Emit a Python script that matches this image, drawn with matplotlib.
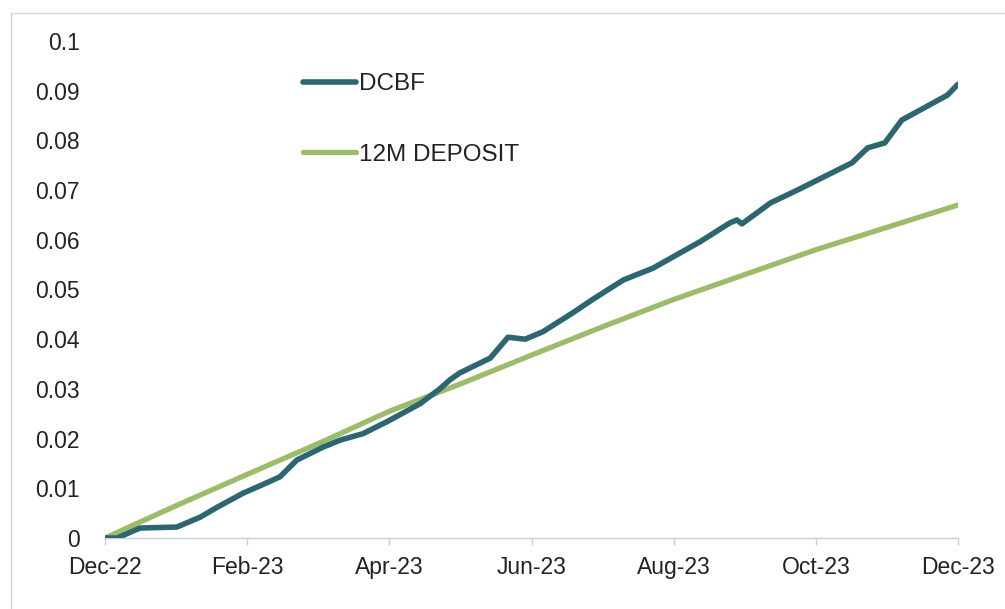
import matplotlib
matplotlib.use("Agg")
import matplotlib.pyplot as plt
from matplotlib.lines import Line2D

plt.rcParams['font.family'] = ['Liberation Sans', 'DejaVu Sans']

# DCBF cumulative return (x in months since Dec-22)
dcbf_month = [0, 0.17, 0.49, 1.01, 1.34, 1.58, 1.94, 2.18, 2.46, 2.70, 3.07, 3.31,
              3.63, 3.98, 4.43, 4.71, 4.85, 4.99, 5.42, 5.67, 5.91, 6.16, 6.58,
              6.85, 7.29, 7.71, 8.37, 8.79, 8.89, 8.96, 9.36, 9.74, 10.51, 10.73,
              10.97, 11.21, 11.85, 12.0]
dcbf_value = [0, 0.0, 0.002, 0.0022, 0.0042, 0.0062, 0.009, 0.0105, 0.0123, 0.0157,
              0.0183, 0.0197, 0.021, 0.0235, 0.027, 0.030, 0.0318, 0.0332, 0.0362,
              0.0404, 0.040, 0.0415, 0.0453, 0.0479, 0.0519, 0.0543, 0.0596, 0.0634,
              0.064, 0.0632, 0.0674, 0.070, 0.0755, 0.0785, 0.0795, 0.0841, 0.0891,
              0.0913]

# 12M deposit cumulative return (monthly)
dep_month = [0, 1, 2, 3, 4, 5, 6, 7, 8, 9, 10, 11, 12]
dep_value = [0, 0.0065, 0.0128, 0.019, 0.0255, 0.031, 0.0368, 0.0425, 0.048,
             0.053, 0.058, 0.0625, 0.067]

x_ticks = [0, 2, 4, 6, 8, 10, 12]
x_labels = ["Dec-22", "Feb-23", "Apr-23", "Jun-23", "Aug-23", "Oct-23", "Dec-23"]
y_ticks = [0, 0.01, 0.02, 0.03, 0.04, 0.05, 0.06, 0.07, 0.08, 0.09, 0.1]
y_labels = ["0", "0.01", "0.02", "0.03", "0.04", "0.05", "0.06", "0.07", "0.08", "0.09", "0.1"]

fig = plt.figure(figsize=(10.05, 6.09), dpi=100)
ax = fig.add_axes([105/1005, 1-538/609, (958-105)/1005, (538-41)/609])

ax.plot(dcbf_month, dcbf_value, color='#2c6670', lw=4.0, solid_capstyle='round',
        solid_joinstyle='round', label='DCBF', zorder=3)
ax.plot(dep_month, dep_value, color='#9bbd6a', lw=3.8, solid_capstyle='round',
        solid_joinstyle='round', label='12M DEPOSIT', zorder=2)

ax.set_xlim(0, 12)
ax.set_ylim(0, 0.1)
ax.set_xticks(x_ticks)
ax.set_xticklabels(x_labels)
ax.set_yticks(y_ticks)
ax.set_yticklabels(y_labels)

for s in ['top', 'right', 'left']:
    ax.spines[s].set_visible(False)
ax.spines['bottom'].set_color('#c8d0d8')
ax.spines['bottom'].set_linewidth(1.0)
ax.tick_params(axis='y', length=0, pad=18, labelsize=16.5, labelcolor='#222222')
ax.tick_params(axis='x', length=5, width=1, color='#c8d0d8', pad=8, labelsize=16.5,
               labelcolor='#222222', direction='out')

leg = ax.legend(loc='upper left', bbox_to_anchor=(303/1005, 1-73/609),
                bbox_transform=fig.transFigure, frameon=False, fontsize=17.5,
                handlelength=2.2, handletextpad=0.1, labelspacing=2.0,
                borderpad=0, borderaxespad=0)
for t in leg.get_texts():
    t.set_color('#222222')

# scanned page frame (left and top)
fig.add_artist(Line2D([11/1005, 11/1005], [0, 1-13/609], transform=fig.transFigure,
                      color='#d0d0d0', lw=1))
fig.add_artist(Line2D([11/1005, 1], [1-13/609, 1-13/609], transform=fig.transFigure,
                      color='#d8d8d8', lw=1))

fig.savefig('out.png', dpi=100)
